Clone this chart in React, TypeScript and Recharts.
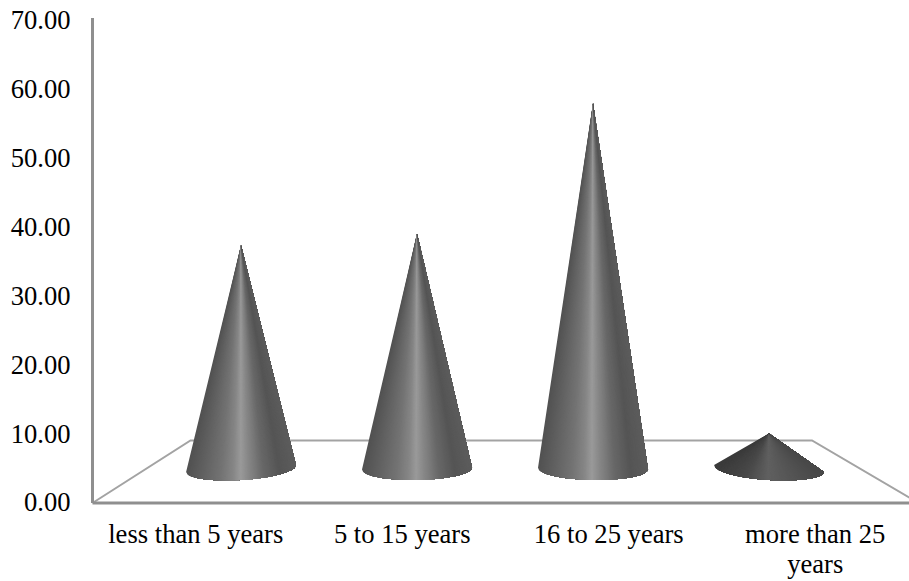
import React from "react";
import { BarChart, Bar, XAxis, YAxis, usePlotArea } from "recharts";

const categories = ["less than 5 years", "5 to 15 years", "16 to 25 years", "more than 25 years"];
const shares = [37.4, 39.1, 58.0, 10.1];
const yTicks = [0, 10, 20, 30, 40, 50, 60, 70];

const FONT = '"Liberation Serif", "Times New Roman", serif';
const FONT_SIZE = 26.6;
const AXIS_COLOR = "#8f8f8f";
const FLOOR_COLOR = "#a3a3a3";

const data = categories.map((category, i) => ({ category, share: shares[i] }));

const labelLines: string[][] = [["less than 5 years"], ["5 to 15 years"], ["16 to 25 years"], ["more than 25", "years"]];
const tilts = [-3.6, -1, 0.8, 3.6];

const ramp: [number, number][] = [
  [0, 0x52], [0.1, 0x5c], [0.3, 0x72], [0.42, 0x86], [0.49, 0x9a],
  [0.56, 0x88], [0.7, 0x68], [0.85, 0x55], [1, 0x5c],
];
const flatRamp: [number, number][] = [
  [0, 0x3a], [0.3, 0x4a], [0.5, 0x60], [0.7, 0x56], [1, 0x48],
];

function grey(t: number, table: [number, number][]) {
  for (let i = 1; i < table.length; i++) {
    if (t <= table[i][0]) {
      const [t0, v0] = table[i - 1];
      const [t1, v1] = table[i];
      const v = Math.round(v0 + ((t - t0) / (t1 - t0)) * (v1 - v0));
      return `rgb(${v},${v},${v})`;
    }
  }
  const v = table[table.length - 1][1];
  return `rgb(${v},${v},${v})`;
}

function Cone(props: any) {
  const { x, y, width, height, index } = props;
  const cx = x + width / 2;
  const rx = width / 2;
  const ry = 11.5;
  const cy = y + height - 34.5;
  const phi = (tilts[index] * Math.PI) / 180;
  const table = height < 100 ? flatRamp : ramp;
  const point = (t: number) => {
    const u = 2 * t - 1;
    const ex = rx * u;
    const ey = ry * Math.sqrt(Math.max(0, 1 - u * u));
    return [cx + ex * Math.cos(phi) - ey * Math.sin(phi), cy + ex * Math.sin(phi) + ey * Math.cos(phi)];
  };
  const n = 110;
  const pts: number[][] = [];
  for (let i = 0; i <= n; i++) pts.push(point(i / n));
  const slices = [];
  // Painted left to right, each polygon covering everything to its right, so no seams show.
  for (let i = 0; i < n; i++) {
    const c = grey((i + 0.5) / n, table);
    const rest = pts.slice(i).map((p) => `L${p[0].toFixed(2)},${p[1].toFixed(2)}`).join("");
    slices.push(<path key={i} d={`M${cx},${y}${rest}Z`} fill={c} />);
  }
  return <g>{slices}</g>;
}

function Floor() {
  const area = usePlotArea();
  if (!area) return null;
  const bottom = area.y + area.height;
  const left = area.x;
  const right = area.x + area.width;
  const back = bottom - 62.5;
  return (
    <path
      d={`M${left},${bottom}L${left + 98},${back}L${right - 106.5},${back}L${right},${bottom}`}
      fill="none"
      stroke={FLOOR_COLOR}
      strokeWidth={2}
    />
  );
}

function CategoryTick(props: any) {
  const { x, y, index } = props;
  const lines = labelLines[index] ?? [];
  return (
    <text textAnchor="middle" fontFamily={FONT} fontSize={FONT_SIZE} fill="#000">
      {lines.map((line, i) => (
        <tspan key={i} x={x} y={y + 32 + i * 30}>
          {line}
        </tspan>
      ))}
    </text>
  );
}

export default function App() {
  return (
    <div style={{ position: "absolute", left: 0, top: 0, width: 909, height: 581, overflow: "hidden", background: "#fff" }}>
      <BarChart width={909} height={581} data={data} margin={{ top: 18, right: -9.5, bottom: 0, left: 0 }}>
        <Floor />
        <XAxis
          xAxisId="labels"
          dataKey="category"
          height={78}
          interval={0}
          tickLine={false}
          axisLine={{ stroke: AXIS_COLOR, strokeWidth: 3 }}
          tick={<CategoryTick />}
        />
        <XAxis xAxisId="cones" dataKey="category" hide height={0} padding={{ left: 60.5, right: 61.5 }} />
        <YAxis
          width={92.5}
          domain={[0, 70.36]}
          ticks={yTicks}
          interval={0}
          allowDataOverflow
          tickSize={0}
          tickMargin={22}
          tickLine={false}
          axisLine={{ stroke: AXIS_COLOR, strokeWidth: 3 }}
          tickFormatter={(v: number) => v.toFixed(2)}
          tick={{ fill: "#000", fontFamily: FONT, fontSize: FONT_SIZE, dy: -1 }}
        />
        <Bar xAxisId="cones" dataKey="share" barSize={110} shape={<Cone />} isAnimationActive={false} />
      </BarChart>
    </div>
  );
}
